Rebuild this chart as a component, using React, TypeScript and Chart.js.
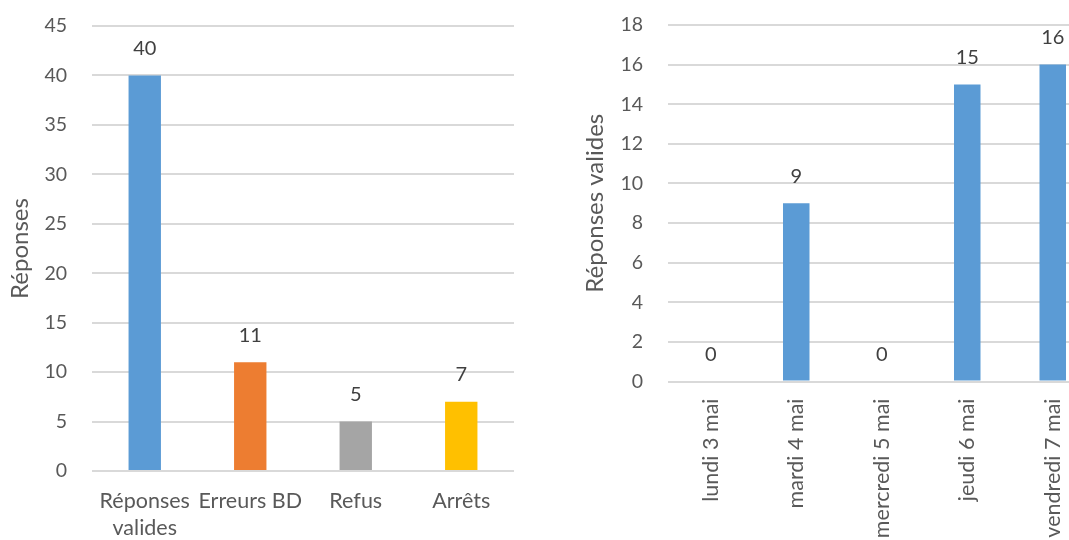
import { useEffect, useRef } from "react";
import { Chart, registerables } from "chart.js";

Chart.register(...registerables);

// Left panel: breakdown of responses by status
const statusCategories: (string | string[])[] = [["Réponses", "valides"], "Erreurs BD", "Refus", "Arrêts"];
const statusValues = [40, 11, 5, 7];
const statusColors = ["#5B9BD5", "#ED7D31", "#A5A5A5", "#FFC000"];
const statusAxisMax = 45;
const statusAxisStep = 5;

// Right panel: valid responses per day
const dayCategories = ["lundi 3 mai", "mardi 4 mai", "mercredi 5 mai", "jeudi 6 mai", "vendredi 7 mai"];
const dayValues = [0, 9, 0, 15, 16];
const dayColor = "#5B9BD5";
const dayAxisMax = 18;
const dayAxisStep = 2;

const FONT_FAMILY = "Lato, 'Open Sans', sans-serif";
const TEXT_COLOR = "#595959";
const LABEL_COLOR = "#404040";
const GRID_COLOR = "#d9d9d9";

const valueLabels = {
  id: "valueLabels",
  afterDatasetsDraw(chart: any, _args: any, opts: any) {
    const { ctx } = chart;
    ctx.save();
    ctx.font = `${opts.size}px ${FONT_FAMILY}`;
    ctx.fillStyle = LABEL_COLOR;
    ctx.textAlign = "center";
    ctx.textBaseline = "middle";
    chart.data.datasets.forEach((ds: any, i: number) => {
      chart.getDatasetMeta(i).data.forEach((bar: any, j: number) => {
        ctx.fillText(String(ds.data[j]), bar.x, bar.y - opts.offset);
      });
    });
    ctx.restore();
  },
};

type PanelProps = {
  left: number;
  width: number;
  height: number;
  labels: (string | string[])[];
  values: number[];
  colors: string | string[];
  max: number;
  step: number;
  title: string;
  titleSize: number;
  titlePad: number;
  yAxisWidth: number;
  xAxisHeight: number;
  padTop: number;
  padRight: number;
  barPct: number;
  rotate: boolean;
  xPad: number;
};

function BarPanel(p: PanelProps) {
  const ref = useRef<HTMLCanvasElement>(null);

  useEffect(() => {
    if (!ref.current) return;
    const yTickFont = { family: FONT_FAMILY, size: 19.5, lineHeight: 1.2 };
    const xTickFont = { family: FONT_FAMILY, size: 21.5, lineHeight: 1.25 };
    const chart = new Chart(ref.current, {
      type: "bar",
      data: {
        labels: p.labels,
        datasets: [
          {
            data: p.values,
            backgroundColor: p.colors,
            borderWidth: 0,
            categoryPercentage: 1,
            barPercentage: p.barPct,
          },
        ],
      },
      options: {
        animation: false,
        responsive: false,
        events: [],
        layout: { padding: { top: p.padTop, right: p.padRight, left: 0, bottom: 0 } },
        plugins: {
          legend: { display: false },
          tooltip: { enabled: false },
          valueLabels: { size: 20, offset: 27 },
        } as any,
        scales: {
          x: {
            grid: { display: false, drawTicks: false },
            border: { display: false },
            ticks: {
              color: TEXT_COLOR,
              font: xTickFont,
              padding: p.xPad,
              autoSkip: false,
              maxRotation: p.rotate ? 90 : 0,
              minRotation: p.rotate ? 90 : 0,
            },
            afterFit: (s: any) => {
              s.height = p.xAxisHeight;
            },
          },
          y: {
            min: 0,
            max: p.max,
            ticks: { stepSize: p.step, color: TEXT_COLOR, font: yTickFont, padding: 0 },
            grid: {
              color: GRID_COLOR,
              lineWidth: 2,
              drawTicks: true,
              tickLength: 25,
              tickColor: "rgba(0,0,0,0)",
            },
            border: { display: false },
            title: {
              display: true,
              text: p.title,
              color: TEXT_COLOR,
              font: { family: FONT_FAMILY, size: p.titleSize, lineHeight: 1.2 },
              padding: { top: p.titlePad, bottom: 0 },
            },
            afterFit: (s: any) => {
              s.width = p.yAxisWidth;
            },
          },
        },
      },
      plugins: [valueLabels],
    });
    return () => chart.destroy();
  }, []);

  return (
    <div style={{ position: "absolute", left: p.left, top: 0, width: p.width, height: p.height }}>
      <canvas ref={ref} width={p.width} height={p.height} style={{ display: "block" }} />
    </div>
  );
}

export default function App() {
  return (
    <div
      style={{
        position: "fixed",
        left: 0,
        top: 0,
        width: 1069,
        height: 540,
        overflow: "hidden",
        background: "#ffffff",
      }}
    >
      <BarPanel
        left={0}
        width={530}
        height={540}
        labels={statusCategories}
        values={statusValues}
        colors={statusColors}
        max={statusAxisMax}
        step={statusAxisStep}
        title="Réponses"
        titleSize={24}
        titlePad={6}
        yAxisWidth={92}
        xAxisHeight={69}
        padTop={26}
        padRight={16}
        barPct={0.307}
        rotate={false}
        xPad={17}
      />
      <BarPanel
        left={560}
        width={540}
        height={540}
        labels={dayCategories}
        values={dayValues}
        colors={dayColor}
        max={dayAxisMax}
        step={dayAxisStep}
        title="Réponses valides"
        titleSize={24}
        titlePad={21}
        yAxisWidth={108}
        xAxisHeight={158.5}
        padTop={25}
        padRight={4.5}
        barPct={0.31}
        rotate={true}
        xPad={17}
      />
    </div>
  );
}
